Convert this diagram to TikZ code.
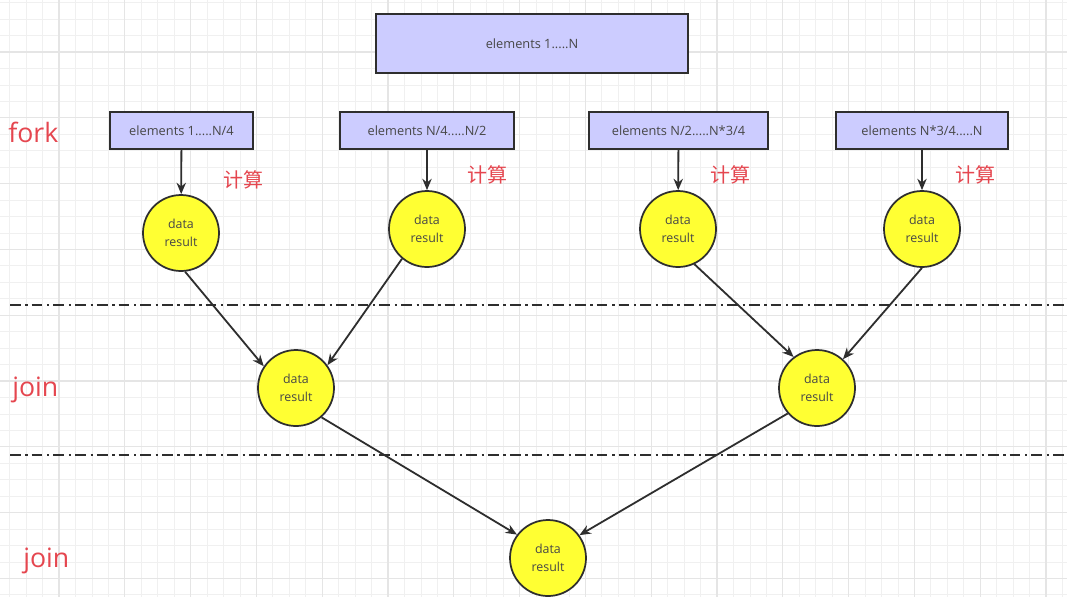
\documentclass[tikz,border=0pt]{standalone}
\usepackage{fontspec}
\setmainfont{Open Sans}
\newfontfamily\cjk{Noto Sans CJK SC}
\usetikzlibrary{arrows.meta,positioning}
\definecolor{lavender}{HTML}{CCCCFF}
\definecolor{sun}{HTML}{FFFF33}
\definecolor{ink}{HTML}{2E2E2E}
\definecolor{tagred}{HTML}{E5464F}

\begin{document}
\begin{tikzpicture}[x=0.75pt,y=-0.75pt,
    part/.style={draw=ink,line width=1.3pt,fill=lavender,minimum height=27.75pt,
                 text=black!72,font=\fontsize{9.6}{11}\selectfont},
    res/.style={circle,draw=ink,line width=1.3pt,fill=sun,minimum size=57pt,
                inner sep=0pt,align=center,text=black!72,font=\fontsize{9.3}{13}\selectfont},
    stage/.style={text=tagred,font=\fontsize{20}{24}\selectfont,anchor=west,inner sep=0pt},
    calcnote/.style={text=tagred,font=\cjk\fontsize{15}{18}\selectfont},
    flow/.style={-{Stealth[length=8.5pt,width=7pt]},draw=ink,line width=1.35pt},
    cut/.style={ink,line width=1.6pt,dash pattern=on 8pt off 3.5pt on 1.8pt off 3pt}
  ]
    \useasboundingbox[fill=white] (0,0) rectangle (1067,597);
    % grid
    \foreach \i in {0,...,64} \draw[black!6,line width=0.6pt] ({9.65+16.45*\i},0) -- ({9.65+16.45*\i},597);
    \foreach \i in {0,...,36} \draw[black!6,line width=0.6pt] (0,{2.65+16.45*\i}) -- (1067,{2.65+16.45*\i});
    \foreach \i in {0,...,15} \draw[black!10,line width=0.8pt] ({59+65.8*\i},0) -- ({59+65.8*\i},597);
    \foreach \i in {0,...,8} \draw[black!10,line width=0.8pt] (0,{52+65.8*\i}) -- (1067,{52+65.8*\i});

    \draw[cut] (10,305) -- (1067,305);
    \draw[cut] (10,455) -- (1067,455);

    \node[stage] (fork) at (8,132) {fork};
    \node[stage] (join1) at (12,390) {join};
    \node[stage] (join2) at (23,561) {join};

    \node[part,minimum width=234pt,minimum height=44.25pt] (all) at (532,43.5) {elements 1.....N};
    \node[part,minimum width=107pt] (p1) at (181.5,130.5) {elements 1.....N/4};
    \node[part,minimum width=130.5pt] (p2) at (427,130.5) {elements N/4.....N/2};
    \node[part,minimum width=134.25pt] (p3) at (678.5,130.5) {elements N/2.....N*3/4};
    \node[part,minimum width=129pt] (p4) at (922,130.5) {elements N*3/4.....N};

    \node[calcnote] (c1) at (243,180) {计算};
    \node[calcnote] (c2) at (487,175) {计算};
    \node[calcnote] (c3) at (730,175) {计算};
    \node[calcnote] (c4) at (975,175) {计算};

    \node[res] (r1) at (181,233) {data\\result};
    \node[res] (r2) at (427,229) {data\\result};
    \node[res] (r3) at (678,229) {data\\result};
    \node[res] (r4) at (922,229) {data\\result};
    \node[res] (m1) at (296,388) {data\\result};
    \node[res] (m2) at (817,388) {data\\result};
    \node[res] (fin) at (548,558) {data\\result};

    \draw[flow] (p1) -- (r1);
    \draw[flow] (p2) -- (r2);
    \draw[flow] (p3) -- (r3);
    \draw[flow] (p4) -- (r4);
    \draw[flow] (r1.-84) -- (m1.146);
    \draw[flow] (r2.-130) -- (m1.36);
    \draw[flow] (r3.-65) -- (m2.127);
    \draw[flow] (r4.-90) -- (m2.48);
    \draw[flow] (m1.-49) -- (fin.143);
    \draw[flow] (m2.-139) -- (fin.36);
  \end{tikzpicture}
\end{document}
